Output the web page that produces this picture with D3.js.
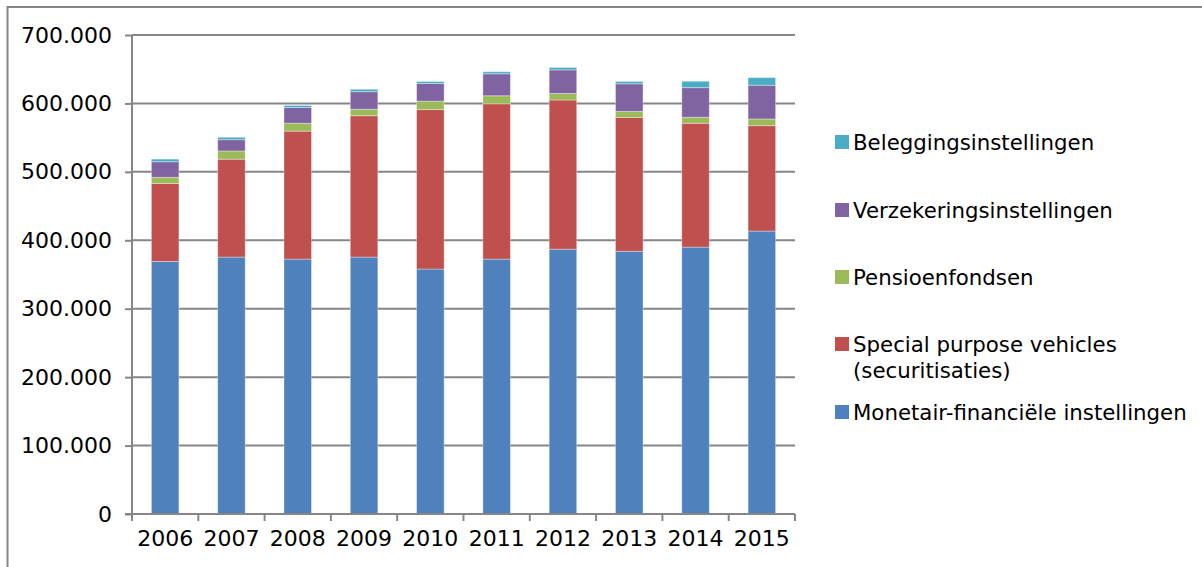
<!DOCTYPE html>
<html><head><meta charset="utf-8">
<script src="https://cdn.jsdelivr.net/npm/d3@7"></script>
<style>html,body{margin:0;padding:0;background:#fff;overflow:hidden}</style>
</head><body>
<svg id="c" width="1202" height="567"></svg>
<script>
const years = ["2006","2007","2008","2009","2010","2011","2012","2013","2014","2015"];
const monetair    = [369000, 375500, 372500, 375500, 358000, 372500, 387000, 384000, 390000, 413500];
const spv         = [114000, 143000, 187000, 206500, 233000, 227000, 218000, 195500, 181000, 154000];
const pensioen    = [  9000,  12000,  11500,   9500,  12300,  11700,   9500,   8800,   8800,   9800];
const verzekering = [ 22800,  16500,  23000,  25700,  25800,  32100,  34500,  40400,  43300,  49300];
const belegging   = [  3800,   3500,   3000,   3500,   2900,   3000,   3500,   3400,   9300,  11100];
const yTicks = [0,100000,200000,300000,400000,500000,600000,700000];
const seriesNames = ["Monetair-financiële instellingen","Special purpose vehicles (securitisaties)","Pensioenfondsen","Verzekeringsinstellingen","Beleggingsinstellingen"];
const seriesColors = ["#4F81BD","#C0504D","#9BBB59","#8064A2","#4BACC6"];
const seriesData = [monetair, spv, pensioen, verzekering, belegging];

const svg = d3.select("#c");
const FONT = "'DejaVu Sans', Verdana, sans-serif";
// outer frame
svg.append("path").attr("d","M7.5,567 L7.5,7 L1202,7").attr("fill","none").attr("stroke","#868686").attr("stroke-width",2);

const L=132, R=795, T=35, B=514;
const x = d3.scaleBand().domain(years).range([L,R]).paddingInner(0.585).paddingOuter(0.2925);
const y = d3.scaleLinear().domain([0,700000]).range([B,T]);

const fmt = v => v===0 ? "0" : d3.format(",")(v).replace(/,/g,".");

// gridlines
svg.append("g").selectAll("line").data(yTicks.filter(v=>v>0)).join("line")
  .attr("x1",L).attr("x2",R).attr("y1",d=>y(d)).attr("y2",d=>y(d))
  .attr("stroke","#868686").attr("stroke-width",2);

// stacks
const table = years.map((yr,i)=>{const o={year:yr}; seriesNames.forEach((n,k)=>o[n]=seriesData[k][i]); return o;});
const stack = d3.stack().keys(seriesNames)(table);
svg.append("g").selectAll("g").data(stack).join("g").attr("fill",(d,i)=>seriesColors[i])
  .selectAll("rect").data(d=>d).join("rect")
  .attr("x",d=>x(d.data.year)).attr("width",x.bandwidth())
  .attr("y",d=>y(d[1])).attr("height",d=>y(d[0])-y(d[1]))
  .attr("stroke","rgba(255,255,255,0.35)").attr("stroke-width",1);

// y axis
const ya = svg.append("g").attr("transform",`translate(${L},0)`)
  .call(d3.axisLeft(y).tickValues(yTicks).tickFormat(fmt).tickSize(7).tickPadding(13));
ya.select(".domain").attr("stroke","#868686").attr("stroke-width",2).attr("d",`M0,${B}V${T}`);
ya.selectAll(".tick line").attr("stroke","#868686").attr("stroke-width",2);
ya.selectAll("text").attr("font-family",FONT).attr("font-size",22).attr("fill","#000");

// x axis
const xa = svg.append("g").attr("transform",`translate(0,${B})`)
  .call(d3.axisBottom(x).tickSize(0).tickPadding(12));
xa.select(".domain").attr("stroke","#868686").attr("stroke-width",2).attr("d",`M${L-7},0H${R}`);
xa.selectAll("text").attr("font-family",FONT).attr("font-size",22).attr("fill","#000").attr("dy","0.92em");
const step = x.step();
svg.append("g").selectAll("line").data(d3.range(years.length+1)).join("line")
  .attr("x1",d=>L+d*step).attr("x2",d=>L+d*step).attr("y1",B).attr("y2",B+7)
  .attr("stroke","#868686").attr("stroke-width",2);

// legend
const legendItems = [
  {k:4, lines:["Beleggingsinstellingen"], y:142},
  {k:3, lines:["Verzekeringsinstellingen"], y:210},
  {k:2, lines:["Pensioenfondsen"], y:277},
  {k:1, lines:["Special purpose vehicles","(securitisaties)"], y:344},
  {k:0, lines:["Monetair-financiële instellingen"], y:412}
];
const lg = svg.append("g");
legendItems.forEach(it=>{
  lg.append("rect").attr("x",835).attr("y",it.y-7).attr("width",14).attr("height",14).attr("fill",seriesColors[it.k]);
  const t = lg.append("text").attr("x",853).attr("y",it.y)
    .attr("font-family",FONT).attr("font-size",21.3).attr("fill","#000");
  it.lines.forEach((ln,j)=>t.append("tspan").attr("x",853).attr("dy", j===0?"0.36em":"1.22em").text(ln));
});
</script>
</body></html>
